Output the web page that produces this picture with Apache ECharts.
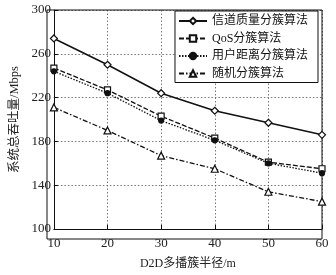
<!DOCTYPE html>
<html><head><meta charset="utf-8">
<script src="https://cdn.jsdelivr.net/npm/echarts@6/dist/echarts.min.js"></script>
<style>html,body{margin:0;padding:0;background:#fff}#c{width:336px;height:275px}</style>
</head><body><div id="c"></div>
<script>
const categories = [10, 20, 30, 40, 50, 60];
const seriesNames = ['信道质量分簇算法', 'QoS分簇算法', '用户距离分簇算法', '随机分簇算法'];
const channelQuality = [274, 250, 224, 208, 197, 186];
const qos = [247, 227, 203, 183, 161, 155];
const userDistance = [244, 224, 199, 181, 160, 151];
const randomCluster = [211, 190, 167, 155, 134, 125];
const yTicks = [100, 140, 180, 220, 260, 300];

const serif = '"Liberation Serif","Noto Sans CJK SC",serif';
const chart = echarts.init(document.getElementById('c'));
const mk = (name, data, symbol, size, dash, filled) => ({
  name, type: 'line', data: categories.map((x, i) => [x, data[i]]),
  symbol, symbolSize: size,
  lineStyle: { color: '#111', width: dash === 'solid' ? 1.5 : 1.3, type: dash },
  itemStyle: { color: filled ? '#111' : '#fff', borderColor: '#111', borderWidth: 1.2 },
  emphasis: { disabled: true }, animation: false
});
chart.setOption({
  animation: false,
  grid: { left: 47, right: 14, top: 10, bottom: 36 },
  xAxis: {
    type: 'value', min: 10, max: 60, interval: 10,
    axisLine: { show: true, lineStyle: { color: '#111' } },
    axisTick: { inside: true, length: 4, lineStyle: { color: '#111' } },
    axisLabel: { color: '#222', fontFamily: serif, fontSize: 13, margin: 8 },
    splitLine: { show: true, lineStyle: { color: '#555', type: [1.5, 2], width: 0.8 } },
    name: 'D2D多播簇半径/m', nameLocation: 'middle', nameGap: 29,
    nameTextStyle: { color: '#222', fontFamily: serif, fontSize: 12 }
  },
  yAxis: {
    type: 'value', min: 100, max: 300, interval: 40,
    axisLine: { show: true, lineStyle: { color: '#111' } },
    axisTick: { inside: true, length: 4, lineStyle: { color: '#111' } },
    axisLabel: { color: '#222', fontFamily: serif, fontSize: 13, margin: 3 },
    splitLine: { show: true, lineStyle: { color: '#555', type: [1.5, 2], width: 0.8 } },
    name: '系统总吞吐量/Mbps', nameLocation: 'middle', nameGap: 29,
    nameTextStyle: { color: '#222', fontFamily: serif, fontSize: 12.5 }
  },
  legend: {
    data: seriesNames, orient: 'vertical', right: 18, top: 11,
    backgroundColor: '#fff', borderColor: '#111', borderWidth: 1, borderRadius: 0,
    padding: [4, 10, 3, 3], itemGap: 5.5, itemWidth: 28, itemHeight: 8,
    textStyle: { color: '#111', fontFamily: serif, fontSize: 12 }
  },
  series: [
    mk(seriesNames[0], channelQuality, 'diamond', 7, 'solid', false),
    mk(seriesNames[1], qos, 'rect', 6, [5, 2], false),
    mk(seriesNames[2], userDistance, 'circle', 5, [1.5, 1.5], true),
    mk(seriesNames[3], randomCluster, 'triangle', 7, [5, 2, 1.5, 2], false)
  ],
  graphic: [{
    type: 'rect', shape: { x: 47, y: 10, width: 275, height: 229 },
    style: { fill: 'none', stroke: '#111', lineWidth: 1 }, silent: true, z: 1
  }]
});
</script></body></html>
